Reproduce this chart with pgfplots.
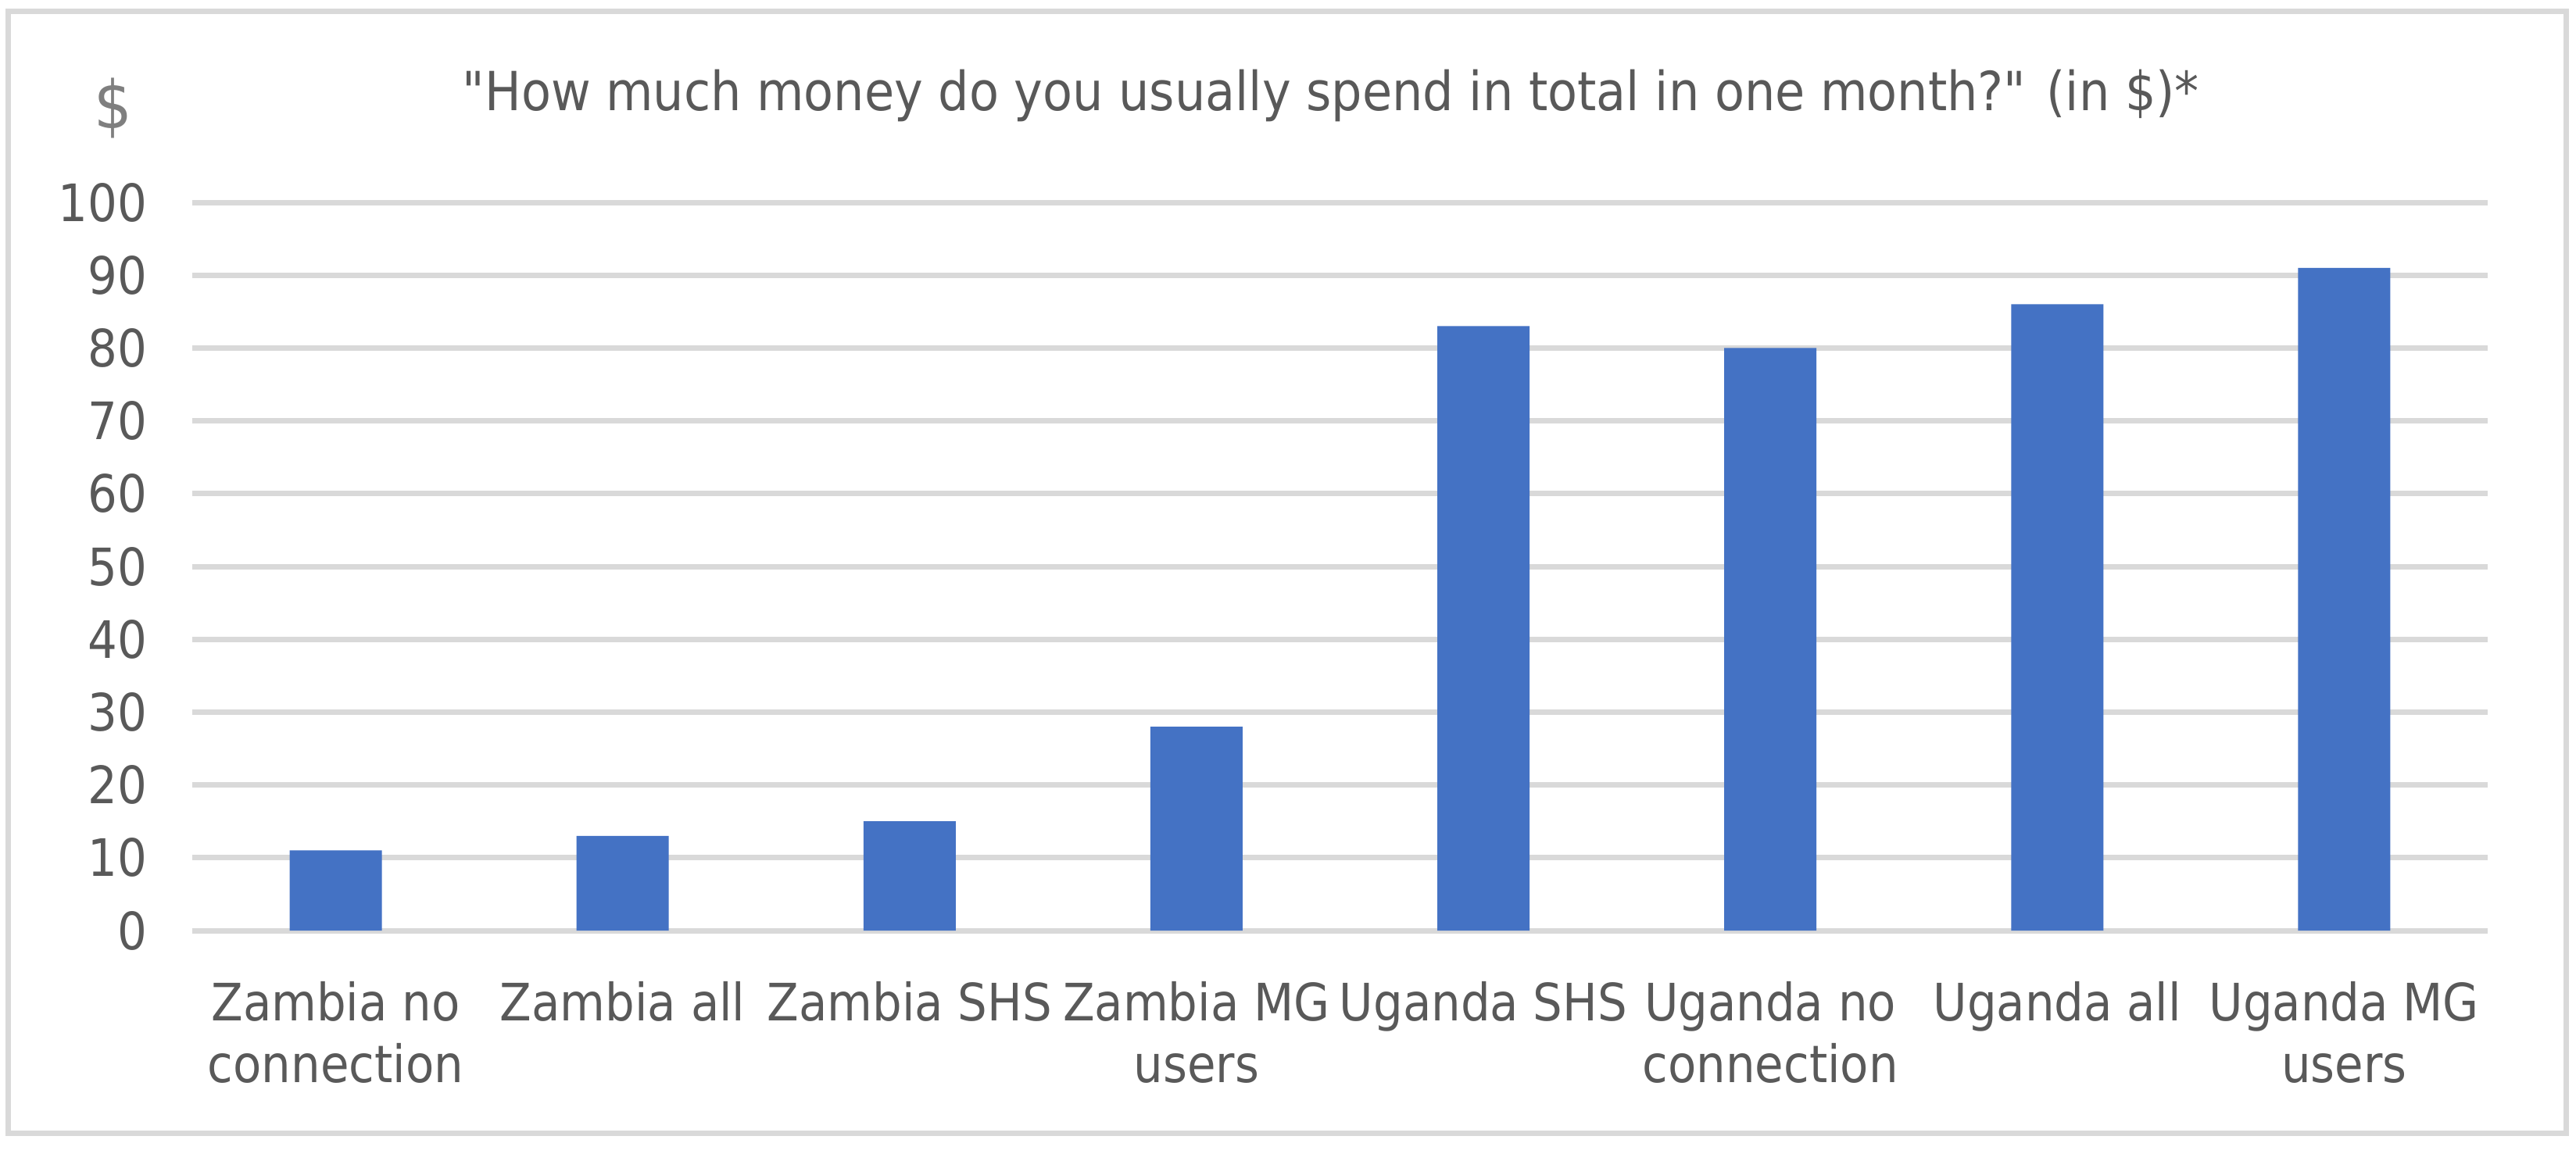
\documentclass[border=0pt]{standalone}
\usepackage{fontspec}
\setmainfont{DejaVu Sans Condensed}
\usepackage{pgfplots}
\pgfplotsset{compat=1.18}

\definecolor{barblue}{HTML}{4472C4}
\definecolor{gridgray}{HTML}{D9D9D9}
\definecolor{textgray}{HTML}{595959}
\definecolor{unitgray}{HTML}{7F7F7F}

\begin{document}
\begin{tikzpicture}
% page = 3296 x 1476 px at 0.2pt per px
\useasboundingbox (0,0) rectangle (659.2pt,295.2pt);
\draw[gridgray, line width=1.4pt] (2pt,5.2pt) rectangle (656.6pt,292.2pt);

\begin{axis}[
    at={(49.2pt,57pt)}, anchor=south west,
    scale only axis,
    width=587.4pt, height=186.4pt,
    xmin=-0.5, xmax=7.5,
    ymin=0, ymax=100,
    ytick={0,10,20,30,40,50,60,70,80,90,100},
    yticklabels={0,10,20,30,40,50,60,70,80,90,100},
    xtick={0,1,2,3,4,5,6,7},
    xticklabels={{Zambia no\\connection},{Zambia all},{Zambia SHS},{Zambia MG\\users},{Uganda SHS},{Uganda no\\connection},{Uganda all},{Uganda MG\\users}},
    axis line style={draw=none},
    major tick style={draw=none},
    ymajorgrids,
    major grid style={gridgray, line width=1.4pt},
    /pgf/number format/assume math mode=true,
    yticklabel style={font=\fontsize{13.2}{15.8}\selectfont, text=textgray, anchor=east, inner ysep=0pt, inner xsep=11.4pt},
    xticklabel style={font=\fontsize{13.2}{15.8}\selectfont, text=textgray, align=center, anchor=north, inner sep=0pt, yshift=-12.8pt},
]
\addplot[ybar, bar width=23.6pt, fill=barblue, draw=none] coordinates {
    (0,11) (1,13) (2,15) (3,28) (4,83) (5,80) (6,86) (7,91)
};
\end{axis}

\node[anchor=base, text=textgray, inner sep=0pt, font=\fontsize{13.8}{17}\selectfont]
    at (340.6pt,266.8pt) {\textquotedbl How much money do you usually spend in total in one month?\textquotedbl{} (in \$)*};
\node[anchor=base, text=unitgray, inner sep=0pt, font=\fontsize{17}{20}\selectfont]
    at (29pt,262.2pt) {\$};
\end{tikzpicture}
\end{document}
